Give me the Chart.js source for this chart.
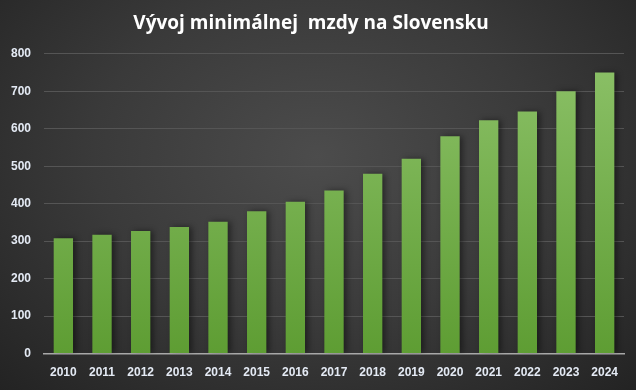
<!DOCTYPE html>
<html><head><meta charset="utf-8">
<script src="https://cdn.jsdelivr.net/npm/chart.js@4"></script>
<style>
html,body{margin:0;padding:0;}
body{width:636px;height:390px;background:radial-gradient(ellipse at 50% 40%, #4c4c4c 0%, #3a3a3a 50%, #232323 100%);}
#wrap{width:636px;height:390px;position:relative;}
</style></head>
<body><div id="wrap"><canvas id="c" width="636" height="390"></canvas></div>
<script>
const categories = ["2010","2011","2012","2013","2014","2015","2016","2017","2018","2019","2020","2021","2022","2023","2024"];
const wages = [307.7,317,327,337.7,352,380,405,435,480,520,580,623,646,700,750];
const yTicks = [0,100,200,300,400,500,600,700,800];

const shadowPlugin = {
  id:'shadow',
  beforeDatasetsDraw(chart){ const c=chart.ctx; c.save(); c.shadowColor='rgba(0,0,0,0.45)'; c.shadowBlur=6; c.shadowOffsetX=3; c.shadowOffsetY=0; },
  afterDatasetsDraw(chart){ chart.ctx.restore(); }
};

new Chart(document.getElementById('c'), {
  type:'bar',
  data:{labels:categories, datasets:[{data:wages,
    backgroundColor:(ctx)=>{const a=ctx.chart.chartArea; if(!a) return '#6fae45';
      const g=ctx.chart.ctx.createLinearGradient(0,a.top,0,a.bottom); g.addColorStop(0,'#8cc168'); g.addColorStop(1,'#5e9d33'); return g;},
    barPercentage:0.5, categoryPercentage:1}]},
  options:{responsive:false, animation:false,
    layout:{padding:{left:-2,right:12,top:0,bottom:-2}},
    plugins:{legend:{display:false}, tooltip:{enabled:false},
      title:{display:true,text:'Vývoj minimálnej  mzdy na Slovensku',color:'#ffffff',
        font:{family:'"Open Sans", "Liberation Sans", sans-serif',size:19,weight:'bold'},padding:{top:12,bottom:19}}},
    scales:{
      x:{grid:{display:false,drawTicks:false},border:{color:'#a8a8a8',width:1.5},
        ticks:{color:'#e4eaf4',font:{family:'"Liberation Sans", sans-serif',size:12,weight:'bold'},padding:12,maxRotation:0,autoSkip:false}},
      y:{min:0,max:800,afterBuildTicks:(ax)=>{ax.ticks=yTicks.map(v=>({value:v}));},
        grid:{color:'#555555',drawTicks:false},border:{display:false},
        ticks:{color:'#e4eaf4',font:{family:'"Liberation Sans", sans-serif',size:12,weight:'bold'},padding:13}}
    }},
  plugins:[shadowPlugin]
});
</script></body></html>
